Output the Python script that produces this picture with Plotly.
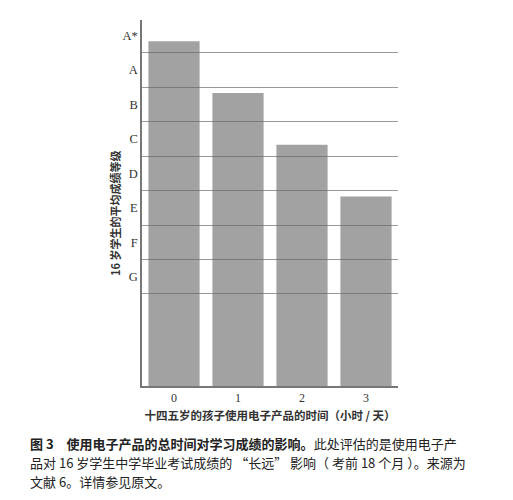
import plotly.graph_objects as go

# data (grade scale: axis bottom = 0, one band per grade)
hours = ['0', '1', '2', '3']
avg_grade = [10.0, 8.5, 7.0, 5.5]
grade_labels = ['G', 'F', 'E', 'D', 'C', 'B', 'A', 'A*']
grade_centres = [3.17, 4.17, 5.17, 6.17, 7.17, 8.17, 9.17, 10.17]
grade_bounds = [2.67, 3.67, 4.67, 5.67, 6.67, 7.67, 8.67, 9.67]

caption_lines = [
    '<b>图 3　使用电子产品的总时间对学习成绩的影响。</b>此处评估的是使用电子产',
    '品对 16 岁学生中学毕业考试成绩的 “长远” 影响（ 考前 18 个月 ）。来源为',
    '文献 6。详情参见原文。',
]

cjk = 'Noto Sans CJK SC'
serif = 'Liberation Serif'

fig = go.Figure()
fig.add_trace(go.Bar(x=hours, y=avg_grade, marker_color='rgba(100,100,100,0.6)',
                     marker_line_width=0, showlegend=False))

# page body has an 8px margin, so the figure is 8px smaller each way
fig.update_layout(
    width=505, height=492,
    margin=dict(l=134, r=115, t=12, b=114),
    plot_bgcolor='white', paper_bgcolor='white',
    bargap=0.2,
    font=dict(family=serif, size=12, color='#333'),
    xaxis=dict(showline=True, linecolor='#777', linewidth=1.5, ticks='',
               tickfont=dict(family=serif, size=12, color='#333'),
               title=dict(text='<b>十四五岁的孩子使用电子产品的时间（小时 / 天）</b>',
                          font=dict(family=cjk, size=11.5, color='#333'), standoff=8)),
    yaxis=dict(range=[0, 10.62], showline=True, linecolor='#777', linewidth=1.5,
               showgrid=False, zeroline=False, ticks='',
               tickvals=grade_centres, ticktext=grade_labels,
               tickfont=dict(family=serif, size=12.5, color='#333'),
               minor=dict(tickvals=grade_bounds, showgrid=True, gridcolor='#999', gridwidth=1)),
)

fig.add_annotation(text='<b>16 岁学生的平均成绩等级</b>', textangle=-90,
                   xref='paper', yref='paper', x=0, y=0.47, xshift=-27,
                   xanchor='center', yanchor='middle', showarrow=False,
                   font=dict(family=cjk, size=11, color='#333'))

for i, line in enumerate(caption_lines):
    fig.add_annotation(text=line, xref='paper', yref='paper', x=0, y=0,
                       xshift=-114, yshift=-57 - 19 * i, xanchor='left', yanchor='middle',
                       showarrow=False, font=dict(family=cjk, size=13, color='#222'))

fig.write_html('out.html')
